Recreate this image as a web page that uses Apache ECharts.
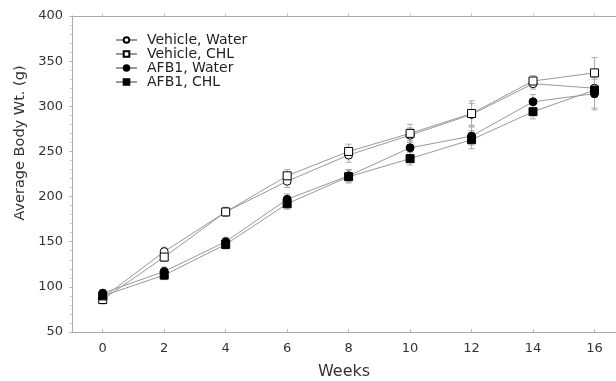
<!DOCTYPE html>
<html><head><meta charset="utf-8">
<script src="https://cdn.jsdelivr.net/npm/echarts@6/dist/echarts.min.js"></script>
<style>html,body{margin:0;padding:0;background:#fff}#c{width:616px;height:381px}</style>
</head><body><div id="c"></div>
<script>
var weeks = [0, 2, 4, 6, 8, 10, 12, 14, 16];
var xTicks = [0, 2, 4, 6, 8, 10, 12, 14, 16];
var seriesNames = ['Vehicle, Water', 'Vehicle, CHL', 'AFB1, Water', 'AFB1, CHL'];
var vehWater = [88, 139, 183, 217, 246, 268, 291, 325, 320];
var vehCHL = [86, 133, 183, 223, 250, 270, 292, 328, 337];
var afbWater = [93, 117, 150, 197, 223, 254, 267, 305, 314];
var afbCHL = [90, 113, 147, 192, 222, 242, 263, 294, 318];
var vehWaterErr = [4, 5, 5, 7, 8, 8, 12, 6, 10];
var vehCHLErr = [5, 5, 5, 7, 8, 10, 14, 6, 17];
var afbWaterErr = [4, 5, 5, 6, 7, 8, 10, 8, 18];
var afbCHLErr = [4, 5, 5, 6, 7, 7, 10, 8, 20];
var yTitle = 'Average Body Wt. (g)';
var xTitle = 'Weeks';

var font = '"DejaVu Sans", Arial, sans-serif';
var chart = echarts.init(document.getElementById('c'));

function pairs(v) { return weeks.map(function (w, i) { return [w, v[i]]; }); }
function errData(v, e) { return weeks.map(function (w, i) { return [w, v[i] - e[i], v[i] + e[i]]; }); }

function errSeries(v, e) {
  return {
    type: 'custom', silent: true, z: 1,
    data: errData(v, e),
    renderItem: function (params, api) {
      var lo = api.coord([api.value(0), api.value(1)]);
      var hi = api.coord([api.value(0), api.value(2)]);
      var w = 3;
      var st = { stroke: '#aaa', lineWidth: 1 };
      return { type: 'group', children: [
        { type: 'line', shape: { x1: lo[0], y1: lo[1], x2: hi[0], y2: hi[1] }, style: st },
        { type: 'line', shape: { x1: lo[0] - w, y1: lo[1], x2: lo[0] + w, y2: lo[1] }, style: st },
        { type: 'line', shape: { x1: hi[0] - w, y1: hi[1], x2: hi[0] + w, y2: hi[1] }, style: st }
      ] };
    }
  };
}

function lineSeries(name, v, symbol, fill) {
  return {
    name: name, type: 'line', data: pairs(v), z: 3,
    symbol: symbol, symbolSize: 8,
    showAllSymbol: true,
    lineStyle: { color: '#999', width: 1 },
    itemStyle: { color: fill, borderColor: '#000', borderWidth: 1 },
    emphasis: { disabled: true }
  };
}

chart.setOption({
  animation: false,
  backgroundColor: '#fff',
  grid: { left: 72, right: 0, top: 16, bottom: 49, outerBoundsMode: 'none', containLabel: false },
  legend: {
    orient: 'vertical', left: 110, top: 28, itemGap: 0,
    itemWidth: 21, itemHeight: 7,
    textStyle: { fontFamily: font, fontSize: 14, color: '#222', padding: [0, 0, 0, 5] },
    data: seriesNames
  },
  graphic: [{
    type: 'text', x: 20, y: 143, rotation: Math.PI / 2,
    style: { text: yTitle, font: '14.5px ' + font, fill: '#333', align: 'center', verticalAlign: 'middle' }
  }],
  xAxis: [{
    type: 'value', min: -1, max: 16.7, interval: 1,
    name: xTitle, nameLocation: 'middle', nameGap: 32,
    nameTextStyle: { fontFamily: font, fontSize: 16, color: '#333' },
    axisLine: { onZero: false, lineStyle: { color: '#aaa', width: 1 } },
    axisTick: { show: true, inside: true, length: 3, customValues: xTicks, lineStyle: { color: '#bbb' } },
    axisLabel: { customValues: xTicks, fontFamily: font, fontSize: 13, color: '#333', margin: 10 },
    splitLine: { show: false }
  }, {
    type: 'value', position: 'top', min: -1, max: 16.7, interval: 1,
    axisLine: { show: true, onZero: false, lineStyle: { color: '#aaa', width: 1 } },
    axisTick: { show: true, inside: false, length: 3, customValues: xTicks, lineStyle: { color: '#ccc' } },
    axisLabel: { show: false },
    splitLine: { show: false }
  }],
  yAxis: {
    type: 'value', min: 50, max: 400, interval: 50,
    axisLine: { show: true, onZero: false, lineStyle: { color: '#aaa', width: 1 } },
    axisTick: { show: true, inside: false, length: 3, lineStyle: { color: '#bbb' } },
    minorTick: { show: true, splitNumber: 5, length: 2, lineStyle: { color: '#ccc' } },
    axisLabel: { fontFamily: font, fontSize: 13, color: '#333', margin: 9 },
    splitLine: { show: false }
  },
  series: [
    errSeries(vehWater, vehWaterErr),
    errSeries(vehCHL, vehCHLErr),
    errSeries(afbWater, afbWaterErr),
    errSeries(afbCHL, afbCHLErr),
    lineSeries(seriesNames[0], vehWater, 'circle', '#fff'),
    lineSeries(seriesNames[1], vehCHL, 'rect', '#fff'),
    lineSeries(seriesNames[2], afbWater, 'circle', '#000'),
    lineSeries(seriesNames[3], afbCHL, 'rect', '#000')
  ]
});
</script></body></html>
